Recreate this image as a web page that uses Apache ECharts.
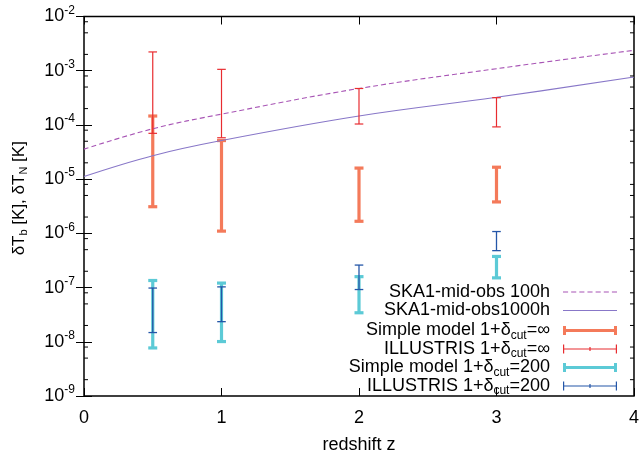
<!DOCTYPE html>
<html>
<head>
<meta charset="utf-8">
<script src="https://cdn.jsdelivr.net/npm/echarts@6/dist/echarts.min.js"></script>
<style>html,body{margin:0;padding:0;background:#fff}#c{width:642px;height:459px}</style>
</head>
<body>
<div id="c"></div>
<script>
// ---- data ----
const zValues = [0.5, 1, 2, 3];
const simpleInfLow = [3.1e-6, 1.1e-6, 1.67e-6, 3.8e-6];
const simpleInfHigh = [1.46e-4, 5.15e-5, 1.6e-5, 1.66e-5];
const illInfLow = [7.0e-5, 5.8e-5, 1.04e-4, 9.2e-5];
const illInfHigh = [2.22e-3, 1.06e-3, 4.7e-4, 3.18e-4];
const simple200Low = [7.7e-9, 1.01e-8, 3.43e-8, 1.51e-7];
const simple200High = [1.35e-7, 1.21e-7, 1.59e-7, 3.75e-7];
const ill200Low = [1.48e-8, 2.35e-8, 9.2e-8, 4.8e-7];
const ill200High = [9.8e-8, 1.03e-7, 2.6e-7, 1.08e-6];
const noiseZ = [0, 0.5, 1, 2, 3, 4];
const noise100h = [3.58e-5, 8.5e-5, 1.58e-4, 4.7e-4, 1.09e-3, 2.38e-3];
const noise1000h = [1.12e-5, 2.71e-5, 5.15e-5, 1.46e-4, 3.23e-4, 7.66e-4];
const xTicks = [0, 1, 2, 3, 4];
const yMinorTicks = [2e-9,5e-9,8e-9,2e-8,5e-8,8e-8,2e-7,5e-7,8e-7,2e-6,5e-6,8e-6,2e-5,5e-5,8e-5,2e-4,5e-4,8e-4,2e-3,5e-3,8e-3];
const names = ['SKA1-mid-obs 100h','SKA1-mid-obs1000h','Simple model 1+δcut=∞','ILLUSTRIS 1+δcut=∞','Simple model 1+δcut=200','ILLUSTRIS 1+δcut=200'];

const FONT = 'Liberation Sans, Arial, sans-serif';
const FS = 18;
const chart = echarts.init(document.getElementById('c'), null, {renderer: 'canvas'});

function errData(lo, hi) { return zValues.map((z, i) => [z, lo[i], hi[i]]); }
function errRender(lw, capHalf) {
  return function (params, api) {
    const x = api.value(0);
    const p1 = api.coord([x, api.value(2)]);
    const p2 = api.coord([x, api.value(1)]);
    const st = {stroke: api.visual('color'), lineWidth: lw};
    return {type: 'group', children: [
      {type: 'line', shape: {x1: p1[0], y1: p1[1], x2: p2[0], y2: p2[1]}, style: st},
      {type: 'line', shape: {x1: p1[0]-capHalf, y1: p1[1], x2: p1[0]+capHalf, y2: p1[1]}, style: st},
      {type: 'line', shape: {x1: p2[0]-capHalf, y1: p2[1], x2: p2[0]+capHalf, y2: p2[1]}, style: st}
    ]};
  };
}
const thickIcon = 'path://M0,0H3V9H0Z M0,3H54V6H0Z M51,0H54V9H51Z';
const thinIcon = 'path://M0,0H1.2V9H0Z M0,4H54V5H0Z M52.8,0H54V9H52.8Z M26.4,2.5H27.6V6.5H26.4Z';
let dashPath = 'path://';
for (let s = 0; s < 54; s += 8) dashPath += 'M' + s + ',0H' + (s + 5) + 'V1.2H' + s + 'Z ';
const solidPath = 'path://M0,0H54V1.2H0Z';

const rich = {
  t: {fontSize: FS, fontFamily: FONT, color: '#000', lineHeight: 18},
  s: {fontSize: 12, fontFamily: FONT, color: '#000', lineHeight: 18, padding: [10, 0, 0, 0]}
};
const nameRich = {
  t: {fontSize: 17, fontFamily: FONT, color: '#000', lineHeight: 18},
  s: {fontSize: 11, fontFamily: FONT, color: '#000', lineHeight: 18, padding: [9, 0, 0, 0]}
};
function legendFmt(name) {
  const i = name.indexOf('δcut');
  if (i < 0) return '{t|' + name + '}';
  return '{t|' + name.slice(0, i + 1) + '}{s|cut}{t|' + name.slice(i + 4) + '}';
}
const rowCenters = [292, 310.5, 328.5, 347, 365.5, 384];
const icons = [dashPath, solidPath, thickIcon, thinIcon, thickIcon, thinIcon];
const iconHeights = [1.2, 1.2, 9, 9, 9, 9];
const legends = names.map((n, i) => ({
  data: [{name: n, icon: icons[i]}],
  orient: 'vertical', right: 25, top: rowCenters[i] - 9, align: 'right',
  itemWidth: 54, itemHeight: iconHeights[i], symbolKeepAspect: false, padding: 0,
  textStyle: {fontSize: FS, fontFamily: FONT, color: '#000', padding: [0, 8, 0, 0], rich: rich},
  formatter: legendFmt
}));

const option = {
  animation: false,
  backgroundColor: '#fff',
  grid: {left: 84, right: 5, top: 16.5, bottom: 58, show: true, borderColor: '#000', borderWidth: 1.5, backgroundColor: 'transparent'},
  legend: legends,
  xAxis: [
    {type: 'value', min: xTicks[0], max: xTicks[xTicks.length-1], interval: 1,
     axisLine: {show: false}, splitLine: {show: false},
     axisTick: {inside: true, length: 8, lineStyle: {color: '#000', width: 1}},
     axisLabel: {fontSize: FS, fontFamily: FONT, color: '#000', margin: 13},
     name: 'redshift z', nameLocation: 'middle', nameGap: 40,
     nameTextStyle: {fontSize: FS, fontFamily: FONT, color: '#000'}},
    {type: 'value', position: 'top', min: xTicks[0], max: xTicks[xTicks.length-1], interval: 1,
     axisLine: {show: false}, splitLine: {show: false}, axisLabel: {show: false},
     axisTick: {inside: true, length: 8, lineStyle: {color: '#000', width: 1}}}
  ],
  yAxis: [
    {type: 'log', logBase: 10, min: 1e-9, max: 1e-2, splitNumber: 7,
     axisLine: {show: false}, splitLine: {show: false},
     axisTick: {inside: true, length: 8, lineStyle: {color: '#000', width: 1}},
     axisLabel: {margin: 9, formatter: v => '{b|10}{e|' + Math.round(Math.log10(v)) + '}',
       rich: {b: {fontSize: FS, fontFamily: FONT, color: '#000', lineHeight: 20},
              e: {fontSize: 12, fontFamily: FONT, color: '#000', lineHeight: 20, padding: [0, 0, 12, 0]}}},
     name: '{t|δT}{s|b}{t| [K], δT}{s|N}{t| [K]}', nameLocation: 'middle', nameGap: 56,
     nameTextStyle: {rich: nameRich, padding: [0, 0, 0, 16]}},
    {type: 'log', logBase: 10, min: 1e-9, max: 1e-2, splitNumber: 7, position: 'right',
     axisLine: {show: false}, splitLine: {show: false}, axisLabel: {show: false},
     axisTick: {inside: true, length: 8, lineStyle: {color: '#000', width: 1}}}
  ],
  series: [
    {name: names[0], type: 'line', smooth: 0.4, symbol: 'none', showSymbol: false,
     data: noiseZ.map((z, i) => [z, noise100h[i]]),
     itemStyle: {color: '#a855b5'}, lineStyle: {color: '#a855b5', width: 1.1, type: [5, 3]}},
    {name: names[1], type: 'line', smooth: 0.4, symbol: 'none', showSymbol: false,
     data: noiseZ.map((z, i) => [z, noise1000h[i]]),
     itemStyle: {color: '#8877c8'}, lineStyle: {color: '#8877c8', width: 1.1}},
    {name: names[2], type: 'custom', renderItem: errRender(3.2, 4.5), encode: {x: 0, y: [1, 2]},
     itemStyle: {color: '#f47a5a'}, data: errData(simpleInfLow, simpleInfHigh), z: 3},
    {name: names[3], type: 'custom', renderItem: errRender(1.2, 4.3), encode: {x: 0, y: [1, 2]},
     itemStyle: {color: '#e82c30'}, data: errData(illInfLow, illInfHigh), z: 4},
    {name: names[4], type: 'custom', renderItem: errRender(3.2, 4.5), encode: {x: 0, y: [1, 2]},
     itemStyle: {color: '#5ccad6'}, data: errData(simple200Low, simple200High), z: 5},
    {name: names[5], type: 'custom', renderItem: errRender(1.3, 4.3), encode: {x: 0, y: [1, 2]},
     itemStyle: {color: '#2456a8'}, data: errData(ill200Low, ill200High), z: 6},
    {name: 'minorTicks', type: 'custom', silent: true, z: 10,
     data: yMinorTicks.map(v => [0, v]), encode: {x: 0, y: 1},
     renderItem: function (params, api) {
       const y = api.coord([0, api.value(1)])[1];
       const cs = params.coordSys;
       const st = {stroke: '#000', lineWidth: 1};
       return {type: 'group', children: [
         {type: 'line', shape: {x1: cs.x, y1: y, x2: cs.x + 4, y2: y}, style: st},
         {type: 'line', shape: {x1: cs.x + cs.width - 4, y1: y, x2: cs.x + cs.width, y2: y}, style: st}
       ]};
     }}
  ]
};
chart.setOption(option);
</script>
</body>
</html>
